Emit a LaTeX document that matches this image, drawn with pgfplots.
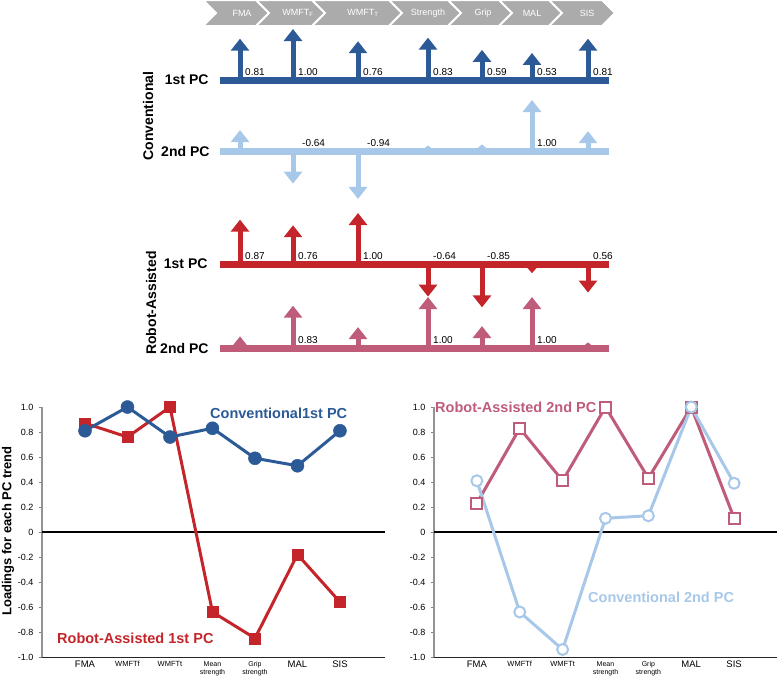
\documentclass[border=0pt]{standalone}
\usepackage{pgfplots}
\pgfplotsset{compat=1.18}
\usepackage{pgfplotstable}
\usepackage{fontspec}
\setmainfont{Liberation Sans}
\usetikzlibrary{arrows.meta}
\definecolor{cdark}{HTML}{2C5A96}
\definecolor{clight}{HTML}{A8C8EA}
\definecolor{cred}{HTML}{C4252A}
\definecolor{cmauve}{HTML}{BE5C7A}
\definecolor{cchev}{HTML}{ABABAB}

% i = category index (bottom charts), pos = x position in the top panel
\pgfplotstableread{
i pos c1 c2 r1 r2
0 240 0.81 0.41 0.87 0.23
1 293 1.00 -0.64 0.76 0.83
2 358 0.76 -0.94 1.00 0.41
3 428 0.83 0.11 -0.64 1.00
4 482 0.59 0.13 -0.85 0.43
5 532 0.53 1.00 -0.18 1.00
6 588 0.81 0.39 -0.56 0.11
}\loadings

\begin{document}
\begin{tikzpicture}
\useasboundingbox (0pt,0pt) rectangle (777pt,-678pt);

% ---------- chevron banner ----------
\foreach \L/\R in {203/256,256/312,312/389,389/448,448/499,499/549,549/602}{
  \filldraw[fill=cchev, draw=white, line width=2pt]
    (\L pt,0pt) -- (\R pt,0pt) -- (\R pt+13pt,-13pt) -- (\R pt,-26pt) -- (\L pt,-26pt) -- (\L pt+13pt,-13pt) -- cycle;
}
\foreach \x/\t in {242/FMA,298/WMFT\textsubscript{F},363/WMFT\textsubscript{T},428/Strength,483/Grip,532/MAL,587/SIS}{
  \node[text=white, font=\fontsize{9}{10}\selectfont] at (\x pt,-13pt) {\t};
}

% ---------- arrow panel ----------
\begin{axis}[at={(0pt,0pt)}, anchor=north west, x=1pt, y=1pt,
  xmin=0, xmax=777, ymin=-370, ymax=0, hide axis, clip=false,
  point meta min=0, point meta max=1,
  nodes near coords style={anchor=south west, inner sep=0pt, xshift=5pt, yshift=4.5pt, text=black, font=\fontsize{10}{11}\selectfont}]
\pgfplotsset{arr/.style={line width=5pt,
  quiver/every arrow/.append style={/utils/exec={\pgfmathsetmacro\hl{min(12,0.051*\pgfplotspointmetatransformed+1.5)}\pgfmathsetmacro\hw{min(18,1.5*\hl+6)}},
     -{Triangle[width=\hw pt,length=\hl pt]}}}}
\addplot[cdark, arr, point meta={abs(\thisrow{c1})}, quiver={u=0, v=\thisrow{c1}, scale arrows=51}] table[x=pos, y expr=-80] {\loadings};
\addplot[cdark, line width=7pt] coordinates {(220,-80) (609,-80)};
\addplot[clight, arr, point meta={abs(\thisrow{c2})}, quiver={u=0, v=\thisrow{c2}, scale arrows=51}] table[x=pos, y expr=-151] {\loadings};
\addplot[clight, line width=7pt] coordinates {(220,-151) (609,-151)};
\addplot[cred, arr, point meta={abs(\thisrow{r1})}, quiver={u=0, v=\thisrow{r1}, scale arrows=51}] table[x=pos, y expr=-264] {\loadings};
\addplot[cred, line width=7pt] coordinates {(220,-264) (609,-264)};
\addplot[cmauve, arr, point meta={abs(\thisrow{r2})}, quiver={u=0, v=\thisrow{r2}, scale arrows=51}] table[x=pos, y expr=-348] {\loadings};
\addplot[cmauve, line width=7pt] coordinates {(220,-348) (609,-348)};
% value labels
\addplot[draw=none, nodes near coords, point meta=explicit symbolic] coordinates {
 (240,-80)[0.81] (293,-80)[1.00] (358,-80)[0.76] (428,-80)[0.83] (482,-80)[0.59] (532,-80)[0.53] (588,-80)[0.81]
 (297,-151)[-0.64] (362,-151)[-0.94] (532,-151)[1.00]
 (240,-264)[0.87] (293,-264)[0.76] (358,-264)[1.00] (428,-264)[-0.64] (482,-264)[-0.85] (588,-264)[0.56]
 (293,-348)[0.83] (428,-348)[1.00] (532,-348)[1.00]};
\end{axis}

\begin{scope}[font=\bfseries\fontsize{14}{16}\selectfont]
\node[anchor=east] at (212pt,-80pt) {1st PC};
\node[anchor=east] at (213pt,-151pt) {2nd PC};
\node[anchor=east] at (211pt,-264pt) {1st PC};
\node[anchor=east] at (212pt,-348pt) {2nd PC};
\node[rotate=90] at (148pt,-116pt) {Conventional};
\node[rotate=90] at (151pt,-303pt) {Robot-Assisted};
\end{scope}

% ---------- line charts ----------
\pgfplotsset{loadax/.style={anchor=north west, scale only axis, width=343pt, height=250pt,
  ymin=-1, ymax=1, clip=false, axis lines*=left,
  x axis line style={black!85, line width=1pt},
  y axis line style={gray!85, line width=1.5pt},
  tick align=outside, major tick length=3pt,
  xtick style={draw=none}, ytick style={draw=gray, line width=1pt},
  ytick={-1,-0.8,-0.6,-0.4,-0.2,0,0.2,0.4,0.6,0.8,1},
  yticklabels={-1.0,-0.8,-0.6,-0.4,-0.2,0,0.2,0.4,0.6,0.8,1.0},
  yticklabel style={font=\fontsize{9}{10}\selectfont, xshift=-2pt},
  xtick={0,...,6},
  xticklabels={{\fontsize{9.5}{10}\selectfont FMA},{\fontsize{7.5}{9}\selectfont WMFTf},{\fontsize{7.5}{9}\selectfont WMFTt},Mean\\strength,Grip\\strength,{\fontsize{9.5}{10}\selectfont MAL},{\fontsize{9.5}{10}\selectfont SIS}},
  xticklabel style={align=center, font=\fontsize{7}{8.5}\selectfont, inner sep=1pt}}}

\begin{axis}[loadax, at={(42pt,-407pt)}, xmin=-1.012, xmax=7.06]
\addplot[black, line width=2.5pt] coordinates {(-1.012,0) (7.06,0)};
\addplot[cred, line width=3pt, mark=square*, mark size=5.5pt, mark options={fill=cred, line width=0.5pt}] table[x=i, y=r1] {\loadings};
\addplot[cdark, line width=3pt, mark=*, mark size=6.5pt, mark options={fill=cdark, line width=0.5pt}] table[x=i, y=c1] {\loadings};
\end{axis}
\node[rotate=90, font=\bfseries\fontsize{13}{15}\selectfont] at (8pt,-531pt) {Loadings for each PC trend};
\node[anchor=west, inner sep=0pt, text=cdark, font=\bfseries\fontsize{14.5}{16}\selectfont] at (210pt,-413pt) {Conventional1st PC};
\node[anchor=west, inner sep=0pt, text=cred, font=\bfseries\fontsize{14.5}{16}\selectfont] at (57pt,-638pt) {Robot-Assisted 1st PC};

\begin{axis}[loadax, at={(434pt,-407pt)}, xmin=-1.0, xmax=7.0]
\addplot[black, line width=2.5pt] coordinates {(-1.0,0) (7.0,0)};
\addplot[cmauve, line width=3pt, mark=square*, mark size=5.5pt, mark options={fill=white, line width=2pt}] table[x=i, y=r2] {\loadings};
\addplot[clight, line width=3pt, mark=*, mark size=5.5pt, mark options={fill=white, line width=2pt}] table[x=i, y=c2] {\loadings};
\end{axis}
\node[anchor=west, inner sep=0pt, text=cmauve, font=\bfseries\fontsize{14.5}{16}\selectfont] at (435pt,-407pt) {Robot-Assisted 2nd PC};
\node[anchor=west, inner sep=0pt, text=clight, font=\bfseries\fontsize{14.5}{16}\selectfont] at (588pt,-597pt) {Conventional 2nd PC};
\end{tikzpicture}
\end{document}
